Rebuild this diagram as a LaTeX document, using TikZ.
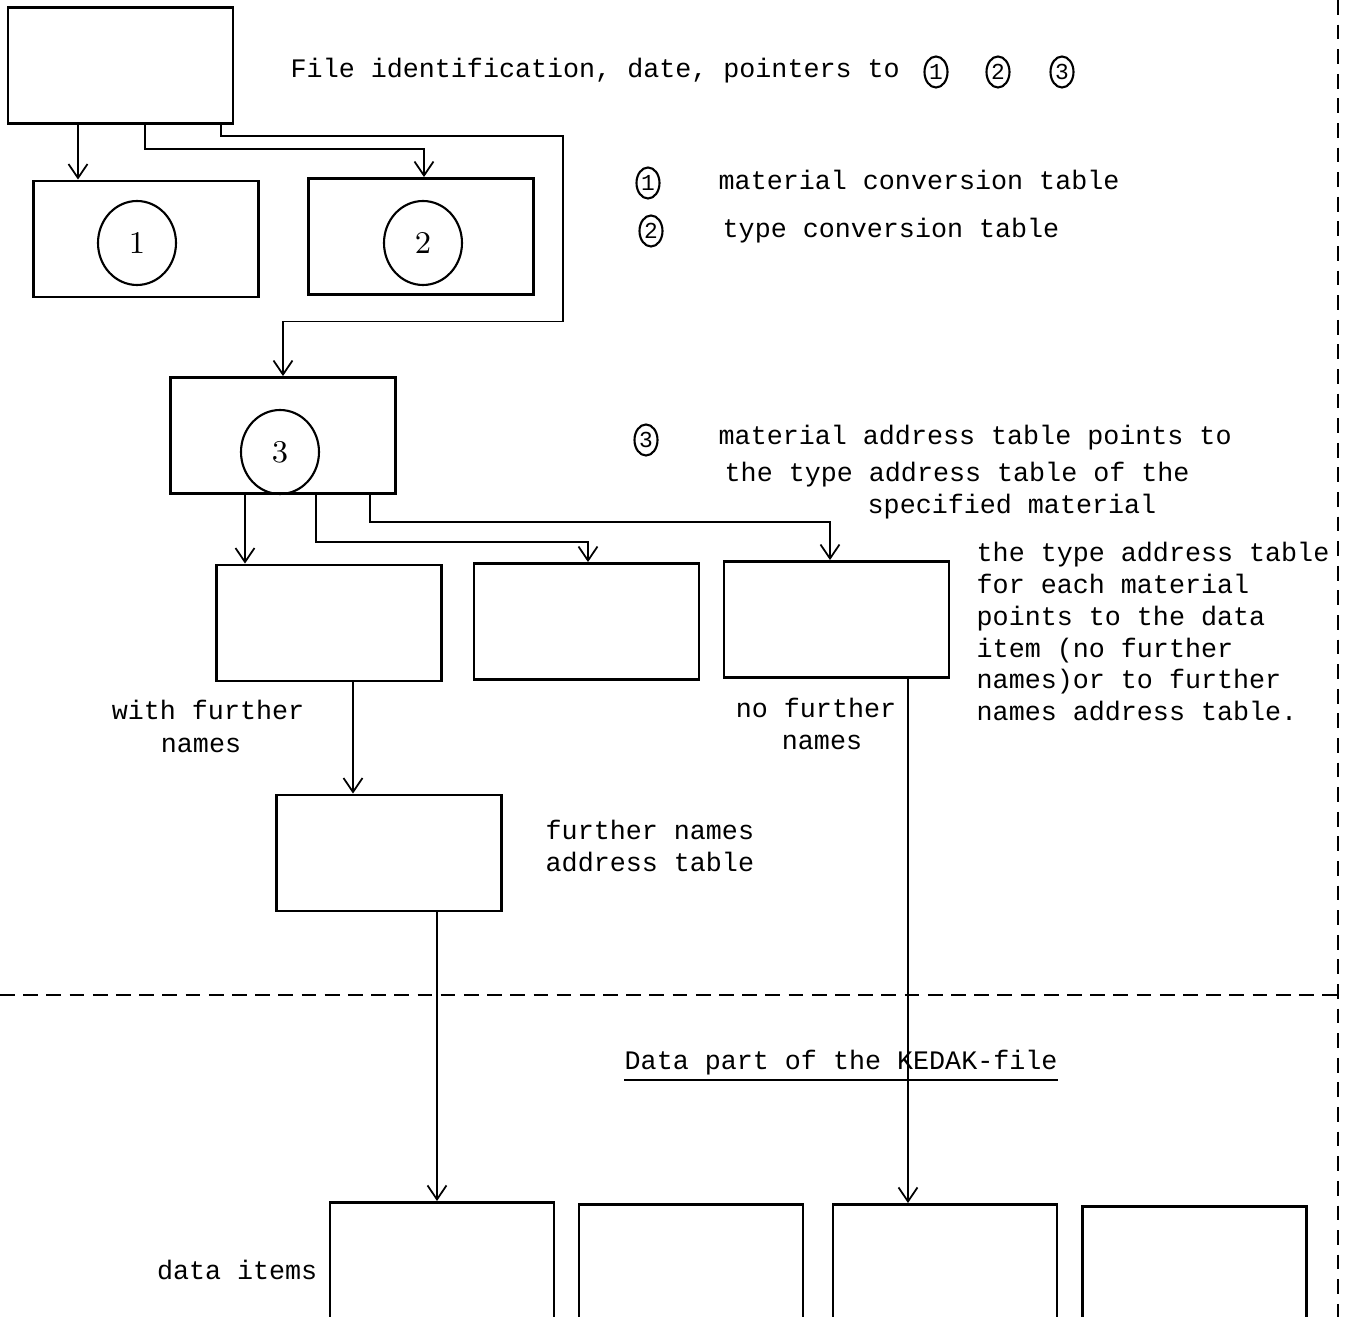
\documentclass[tikz,border=0pt]{standalone}
\usepackage{fontspec}
\setmonofont{Liberation Mono}
\usetikzlibrary{arrows.meta,shapes.geometric,calc}

\begin{document}
\begin{tikzpicture}[>={Straight Barb[length=1.4mm,width=1.9mm]},
    tbl/.style={draw,line width=0.8pt,minimum width=2.25cm,minimum height=1.16cm,inner sep=0pt},
    item/.style={draw,line width=0.8pt,minimum width=2.24cm,minimum height=2cm,inner sep=0pt},
    ring/.style={draw,ellipse,line width=0.6pt,minimum width=0.78cm,minimum height=0.84cm,inner sep=0pt,font=\small},
    numtag/.style={draw,ellipse,line width=0.6pt,minimum width=0.23cm,minimum height=0.31cm,inner sep=0pt,font=\ttfamily\fontsize{6.5}{7}\selectfont},
    txt/.style={font=\ttfamily\fontsize{7.6}{9.1}\selectfont,inner sep=0pt},
    link/.style={->,line width=0.5pt}]
    \useasboundingbox (0,0) rectangle (13.5,-13.17);
    \clip (0,0) rectangle (13.5,-13.17);

    \node[tbl] (head) at (1.205,-0.655) {};
    \node[tbl] (mct) at (1.46,-2.39) {};
    \node[tbl] (tct) at (4.21,-2.365) {};
    \node[tbl] (mat) at (2.83,-4.355) {};
    \node[tbl] (ta1) at (3.29,-6.23) {};
    \node[tbl] (ta2) at (5.865,-6.215) {};
    \node[tbl] (ta3) at (8.365,-6.195) {};
    \node[tbl] (fna) at (3.89,-8.53) {};
    \foreach \x/\y [count=\i] in {4.42/12.01,6.91/12.03,9.45/12.03,11.945/12.05}
        \node[item,anchor=north] (d\i) at (\x,-\y) {};

    \node[ring] (r1) at (1.37,-2.43) {1};
    \node[ring] (r2) at (4.23,-2.43) {2};
    \node[ring] (r3) at (2.80,-4.52) {3};

    \coordinate (h1) at ([xshift=-4.25mm]head.south);
    \coordinate (h2) at ([xshift=2.45mm]head.south);
    \coordinate (h3) at ([xshift=10.05mm]head.south);
    \coordinate (k2) at (4.24,-1.49);
    \draw[link] (h1) -- (h1 |- mct.north);
    \draw[link] (h2) |- (k2) -- (k2 |- tct.north);
    \draw[link] (h3) |- (5.63,-1.36) |- ($(mat.north)+(0,0.545)$) -- (mat.north);

    \coordinate (m1) at ([xshift=-3.8mm]mat.south);
    \coordinate (m2) at ([xshift=3.3mm]mat.south);
    \coordinate (m3) at ([xshift=8.7mm]mat.south);
    \coordinate (k5) at (5.88,-5.42);
    \coordinate (k6) at (8.30,-5.22);
    \draw[link] (m1) -- (m1 |- ta1.north);
    \draw[link] (m2) |- (k5) -- (k5 |- ta2.north);
    \draw[link] (m3) |- (k6) -- (k6 |- ta3.north);

    \coordinate (f1) at ([xshift=2.4mm]ta1.south);
    \coordinate (f2) at ([xshift=4.8mm]fna.south);
    \coordinate (f3) at ([xshift=7.15mm]ta3.south);
    \draw[link] (f1) -- (f1 |- fna.north);
    \draw[link] (f2) -- (f2 |- d1.north);
    \draw[link] (f3) -- (f3 |- d3.north);

    \draw[line width=0.6pt,dash pattern=on 4.2pt off 2.4pt] (0,-9.95) -- (13.38,-9.95);
    \draw[line width=0.6pt,dash pattern=on 4.2pt off 2.8pt] (13.38,0) -- (13.38,-13.17);

    \node[txt,anchor=base west] (ident) at (2.90,-0.78) {File identification, date, pointers to};
    \node[numtag] (p1) at (9.36,-0.72) {1};
    \node[numtag] (p2) at (9.98,-0.72) {2};
    \node[numtag] (p3) at (10.62,-0.72) {3};

    \node[numtag] (l1) at (6.48,-1.83) {1};
    \node[txt,anchor=base west] (l1t) at (7.18,-1.90) {material conversion table};
    \node[numtag] (l2) at (6.51,-2.31) {2};
    \node[txt,anchor=base west] (l2t) at (7.22,-2.38) {type conversion table};
    \node[numtag] (l3) at (6.46,-4.40) {3};
    \node[txt,anchor=base west] (l3a) at (7.18,-4.45) {material address table points to};
    \node[txt,anchor=base west] (l3b) at (7.24,-4.82) {the type address table of the};
    \node[txt,anchor=base west] (l3c) at (8.67,-5.14) {specified material};

    \node[txt,anchor=north west,align=left] (tatext) at (9.76,-5.41)
        {the type address table\\for each material\\points to the data\\item (no further\\names)or to further\\names address table.};
    \node[txt,anchor=base] (withfn) at (2.08,-7.20) {with further};
    \node[txt,anchor=base] (withfn2) at (2.01,-7.53) {names};
    \node[txt,anchor=base] (nofn) at (8.16,-7.18) {no further};
    \node[txt,anchor=base] (nofn2) at (8.22,-7.50) {names};
    \node[txt,anchor=north west,align=left] (fntext) at (5.45,-8.19) {further names\\address table};

    \node[txt,anchor=base west] (dpart) at (6.24,-10.70) {Data part of the KEDAK-file};
    \draw[line width=0.8pt] ([yshift=-1mm]dpart.base west) -- ([yshift=-1mm]dpart.base east);
    \node[txt,anchor=base east] (ditems) at (3.18,-12.80) {data items};
\end{tikzpicture}
\end{document}
